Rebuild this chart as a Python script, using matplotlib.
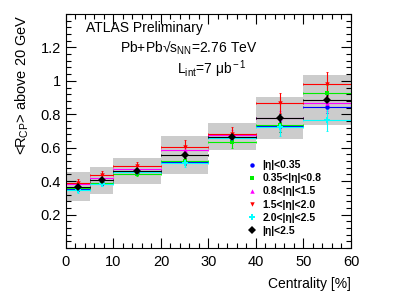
import numpy as np
import matplotlib
matplotlib.use('Agg')
import matplotlib.pyplot as plt
from matplotlib.ticker import MultipleLocator

plt.rcParams['font.family'] = ['Liberation Sans', 'DejaVu Sans']
plt.rcParams['mathtext.fontset'] = 'custom'
plt.rcParams['mathtext.rm'] = 'Liberation Sans'
plt.rcParams['mathtext.it'] = 'Liberation Sans:italic'

##### Data #####
# Centrality bins [%]
bin_lo = np.array([0, 5, 10, 20, 30, 40, 50])
bin_hi = np.array([5, 10, 20, 30, 40, 50, 60])

# <R_CP> per eta slice
r_eta035   = [0.355, 0.390, 0.455, 0.515, 0.665, 0.727, 0.843]
r_eta08    = [0.360, 0.390, 0.440, 0.519, 0.636, 0.736, 0.930]
r_eta15    = [0.385, 0.420, 0.475, 0.588, 0.675, 0.780, 0.865]
r_eta20    = [0.390, 0.435, 0.492, 0.604, 0.681, 0.869, 0.982]
r_eta25    = [0.345, 0.385, 0.455, 0.510, 0.660, 0.722, 0.764]
r_all      = [0.367, 0.405, 0.462, 0.556, 0.667, 0.779, 0.887]

# statistical errors
e_eta035   = [0.012, 0.012, 0.012, 0.020, 0.025, 0.030, 0.035]
e_eta08    = [0.012, 0.012, 0.012, 0.020, 0.035, 0.040, 0.045]
e_eta15    = [0.015, 0.015, 0.015, 0.025, 0.030, 0.040, 0.045]
e_eta20    = [0.025, 0.025, 0.020, 0.040, 0.045, 0.060, 0.070]
e_eta25    = [0.015, 0.015, 0.015, 0.025, 0.030, 0.050, 0.065]
e_all      = [0.015, 0.015, 0.015, 0.020, 0.020, 0.025, 0.030]

# systematic band (|eta|<2.5)
sys_all    = [0.085, 0.080, 0.077, 0.115, 0.082, 0.125, 0.150]

labels  = ['|η|<0.35', '0.35<|η|<0.8', '0.8<|η|<1.5',
           '1.5<|η|<2.0', '2.0<|η|<2.5', '|η|<2.5']
series  = [r_eta035, r_eta08, r_eta15, r_eta20, r_eta25, r_all]
errors  = [e_eta035, e_eta08, e_eta15, e_eta20, e_eta25, e_all]
colors  = ['#0000ff', '#00ee00', '#ff00ff', '#ff0000', '#00ffff', '#000000']
markers = ['o', 's', '^', 'v', 'P', 'D']
msizes  = [3.2, 3.2, 3.2, 3.2, 5.0, 4.0]

##### Plot #####
centers = (bin_lo + bin_hi) / 2.0
halfw   = (bin_hi - bin_lo) / 2.0

fig = plt.figure(figsize=(4.14, 2.97), dpi=100)
ax = fig.add_axes([66/414, 1-248/297, 285/414, 234/297])

# Systematic boxes
sys = np.array(sys_all)
ax.bar(centers, 2*sys, bottom=np.array(r_all)-sys, width=bin_hi-bin_lo,
       color='#cccccc', edgecolor='none', zorder=1)

handles = []
for vals, errs, col, mk, ms in zip(series, errors, colors, markers, msizes):
    ax.errorbar(centers, vals, xerr=halfw, yerr=errs, fmt='none',
                ecolor=col, elinewidth=0.8, capsize=1.0, capthick=0.6, zorder=2)
    h, = ax.plot(centers, vals, linestyle='none', marker=mk, color=col,
                 markersize=ms, markeredgewidth=0, zorder=3)
    handles.append(h)

ax.set_xlim(0, 60)
ax.set_ylim(0, 1.4)
ax.set_yticks([0.2, 0.4, 0.6, 0.8, 1.0, 1.2])
ax.set_yticklabels(['0.2', '0.4', '0.6', '0.8', '1', '1.2'])
ax.xaxis.set_major_locator(MultipleLocator(10))
ax.xaxis.set_minor_locator(MultipleLocator(2))
ax.yaxis.set_minor_locator(MultipleLocator(0.04))
ax.tick_params(which='both', direction='in', top=True, right=True,
               labelsize=10.5, width=0.8)
ax.tick_params(which='major', length=7)
ax.tick_params(which='minor', length=3.5)
ax.tick_params(axis='x', pad=5)
for s in ax.spines.values():
    s.set_linewidth(0.8)

ax.set_xlabel('Centrality [%]', fontsize=10, loc='right', labelpad=6)
ax.set_ylabel(r'<R$_{\rm CP}$> above 20 GeV', fontsize=10.5, loc='top', labelpad=7)

ax.text(0.07, 0.94, 'ATLAS Preliminary', transform=ax.transAxes,
        fontsize=10, va='center')
ax.text(0.19, 0.855, r'Pb+Pb√s$_{\rm NN}$=2.76 TeV', transform=ax.transAxes,
        fontsize=10, va='center')
ax.text(0.39, 0.765, r'L$_{\rm int}$=7 μb$^{\rm -1}$', transform=ax.transAxes,
        fontsize=10, va='center')

ax.legend(handles, labels, loc='upper left', bbox_to_anchor=(0.635, 0.375),
          frameon=False, prop={'weight': 'bold', 'size': 7.5},
          handlelength=1.0, handletextpad=0.5, labelspacing=0.3,
          borderpad=0, borderaxespad=0)

plt.savefig('out.png', dpi=100)
